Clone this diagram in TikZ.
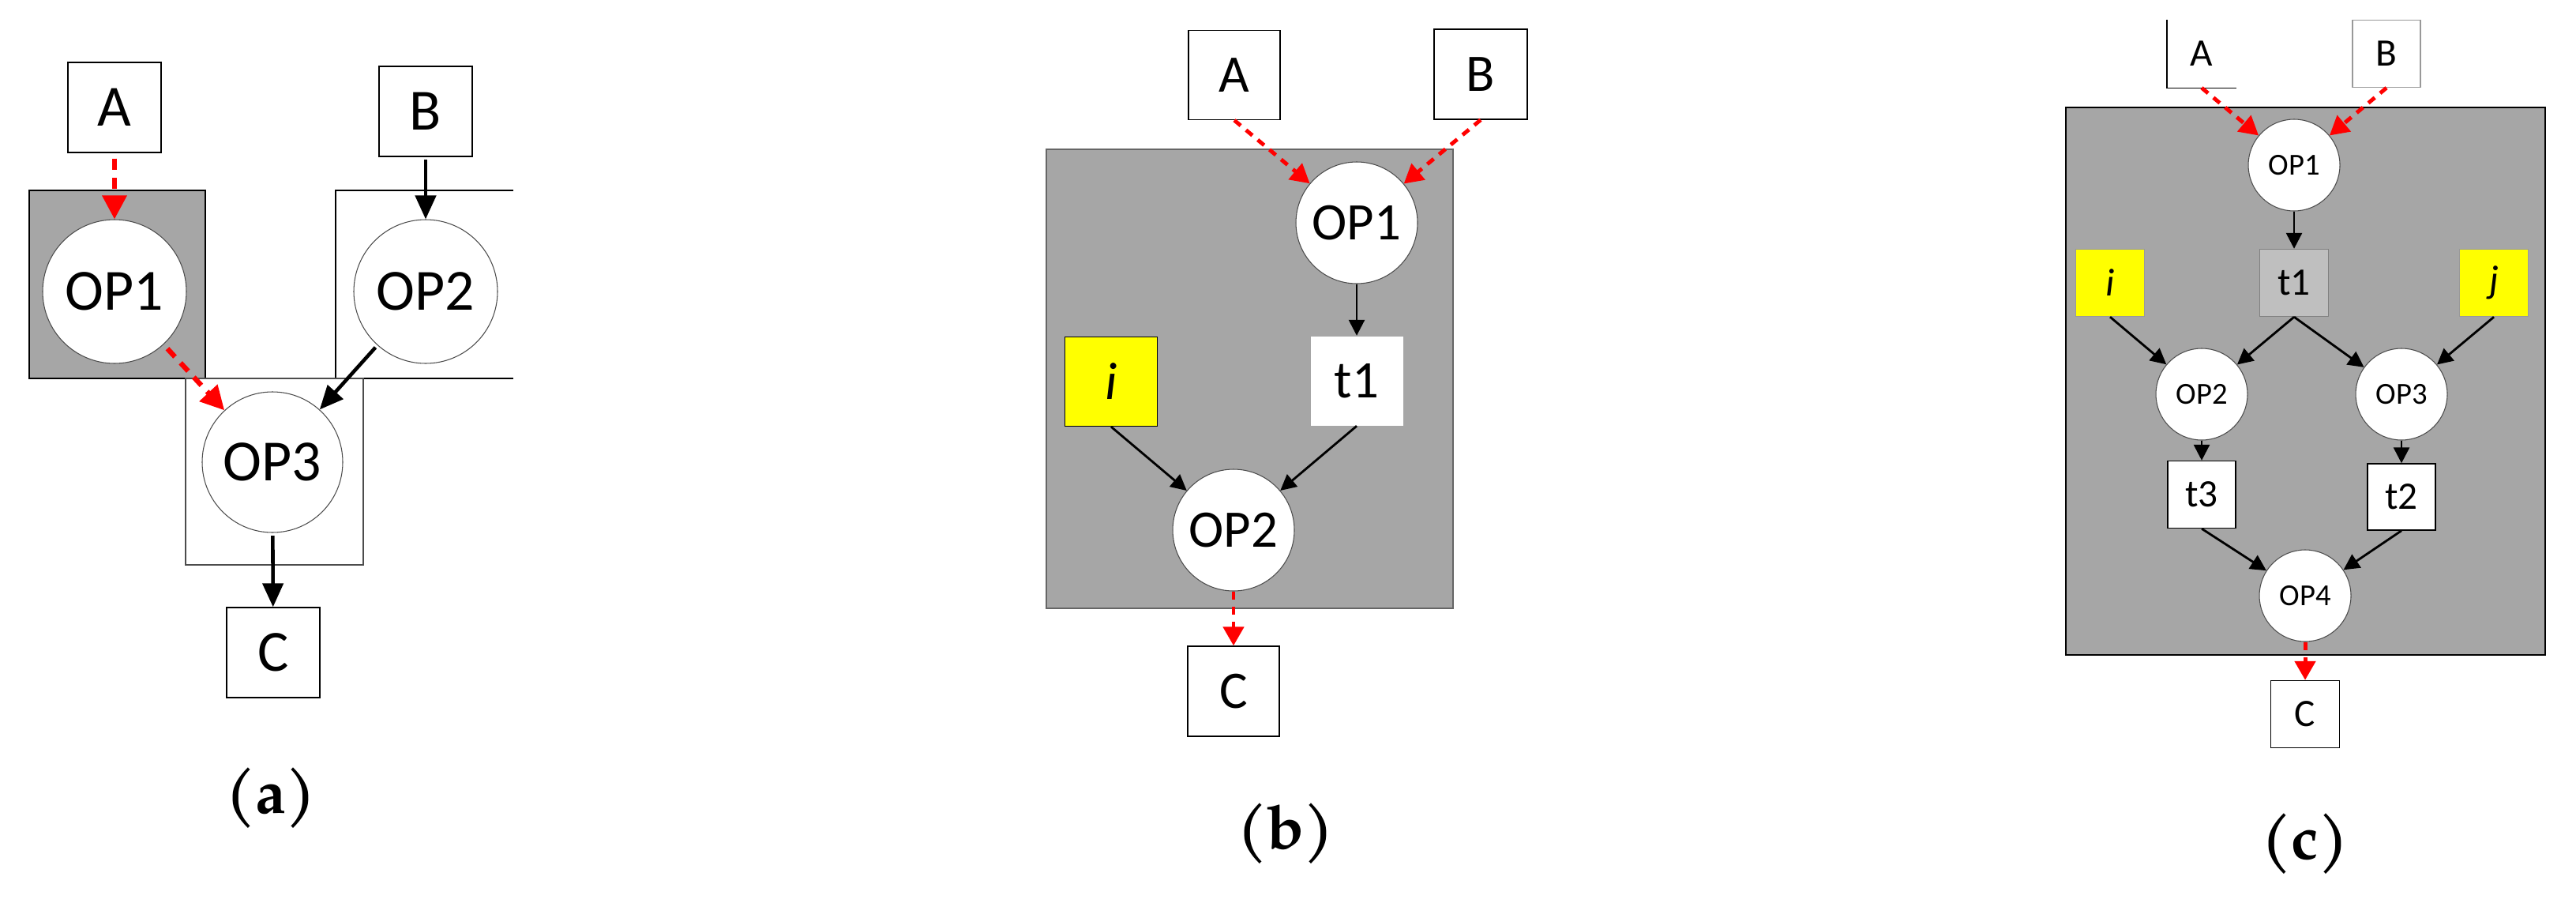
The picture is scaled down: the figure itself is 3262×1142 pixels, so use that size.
\documentclass[tikz,border=0pt]{standalone}
\usepackage{fontspec}
\setmainfont{Carlito}
\newfontfamily\capfont{TeX Gyre Pagella}
\usetikzlibrary{arrows.meta}
\definecolor{bg}{HTML}{A6A6A6}
\definecolor{tg}{HTML}{BFBFBF}
\definecolor{yel}{HTML}{FFFF00}
\tikzset{
  x=0.1mm,y=-0.1mm,
  box/.style={draw=black,line width=0.4pt,fill=white,inner sep=0pt},
  op/.style={circle,draw=black!70,line width=0.3pt,fill=white,inner sep=0pt},
  blk/.style={-{Triangle[length=3mm,width=2.6mm]},line width=1.3pt,black,shorten <=1pt},
  redarr/.style={-{Triangle[length=3mm,width=3mm]},line width=1.8pt,draw=red,dash pattern=on 4pt off 3pt,shorten <=2pt},
  blks/.style={-{Triangle[length=2mm,width=2mm]},line width=0.8pt,black},
  redsm/.style={-{Triangle[length=2.4mm,width=2.6mm]},line width=1.4pt,draw=red,dash pattern=on 3pt off 2.5pt},
  captxt/.style={font=\capfont\fontsize{22}{24}\selectfont\bfseries}
}
\begin{document}
\begin{tikzpicture}
\useasboundingbox (0,0) rectangle (3262,1142);
% ---------- (a)
\fill[bg] (37,241) rectangle (260,479);
\draw[line width=0.5pt] (37,241) rectangle (260,479);
\draw[line width=0.5pt] (650,241) -- (425,241) -- (425,479) -- (650,479);
\draw[line width=0.5pt,black!70] (235,479) rectangle (460,715);
\begin{scope}[font=\fontsize{21}{24}\selectfont]
\node[box,minimum width=11.8mm,minimum height=11.4mm] (aA) at (145,136) {A};
\node[box,minimum width=11.8mm,minimum height=11.4mm] (aB) at (539,141) {B};
\node[box,minimum width=11.8mm,minimum height=11.4mm] (aC) at (346,826) {C};
\node[op,minimum size=18.2mm] (aO1) at (145,369) {OP1};
\node[op,minimum size=18.2mm] (aO2) at (539,369) {OP2};
\node[op,minimum size=17.8mm] (aO3) at (345,585) {OP3};
\end{scope}
\draw[redarr] (aA) -- (aO1);
\draw[redarr] (aO1) -- (aO3);
\draw[blk] (aB) -- (aO2);
\draw[blk] (aO2) -- (aO3);
\draw[blk] (aO3) -- (aC);
\node[captxt] (la) at (343,1010) {(a)};
% ---------- (b)
\fill[bg] (1325,189) rectangle (1840,770);
\draw[line width=0.3pt,black!60] (1325,189) rectangle (1840,770);
\begin{scope}[font=\fontsize{19}{22}\selectfont]
\node[box,minimum width=11.6mm,minimum height=11.3mm] (bA) at (1563,95) {A};
\node[box,minimum width=11.8mm,minimum height=11.4mm] (bB) at (1875,94) {B};
\node[box,minimum width=11.6mm,minimum height=11.4mm] (bC) at (1562,875) {C};
\node[op,minimum size=15.4mm] (bO1) at (1718,282) {OP1};
\node[op,minimum size=15.4mm] (bO2) at (1562,671) {OP2};
\node[box,draw=none,minimum width=11.7mm,minimum height=11.3mm] (bt1) at (1718,482) {t1};
\node[box,fill=yel,minimum width=11.7mm,minimum height=11.3mm] (bi) at (1407,483) {\itshape i};
\end{scope}
\draw[redsm] (bA.south) -- (bO1);
\draw[redsm] (bB.south) -- (bO1);
\draw[blks] (bO1) -- (bt1);
\draw[blks] (bt1.south) -- (bO2);
\draw[blks] (bi.south) -- (bO2);
\draw[redsm] (bO2) -- (bC);
\node[captxt] (lb) at (1628,1055) {(b)};
% ---------- (c)
\fill[bg] (2616,136) rectangle (3223,829);
\draw[line width=0.5pt] (2616,136) rectangle (3223,829);
\begin{scope}[font=\fontsize{14}{16}\selectfont]
\node[inner sep=0pt,minimum width=8.7mm,minimum height=8.5mm] (cA) at (2788,68) {A};
\draw[line width=0.4pt] (cA.north west) -- (cA.south west) -- (cA.south east);
\node[box,draw=black!40,minimum width=8.6mm,minimum height=8.5mm] (cB) at (3022,68) {B};
\node[box,minimum width=8.7mm,minimum height=8.5mm] (cC) at (2919,904) {C};
\node[op,minimum width=11.6mm,minimum height=11.2mm,font=\fontsize{11}{13}\selectfont] (cO1) at (2905,209) {OP1};
\node[op,minimum width=11.6mm,minimum height=11.2mm,font=\fontsize{11}{13}\selectfont] (cO2) at (2788,499) {OP2};
\node[op,minimum width=11.6mm,minimum height=11.2mm,font=\fontsize{11}{13}\selectfont] (cO3) at (3041,499) {OP3};
\node[op,minimum width=11.6mm,minimum height=11.2mm,font=\fontsize{11}{13}\selectfont] (cO4) at (2919,754) {OP4};
\node[box,fill=tg,draw=black!50,minimum width=8.7mm,minimum height=8.5mm] (ct1) at (2905,358) {t1};
\node[box,fill=yel,draw=black!40,minimum width=8.7mm,minimum height=8.5mm] (ci) at (2672,358) {\itshape i};
\node[box,fill=yel,draw=black!40,minimum width=8.7mm,minimum height=8.5mm] (cj) at (3158,358) {\itshape j};
\node[box,minimum width=8.6mm,minimum height=8.5mm] (ct3) at (2788,626) {t3};
\node[box,minimum width=8.6mm,minimum height=8.4mm] (ct2) at (3041,629) {t2};
\end{scope}
\draw[redsm] (cA.south) -- (cO1);
\draw[redsm] (cB.south) -- (cO1);
\draw[blks] (cO1) -- (ct1);
\draw[blks] (ct1.south) -- (cO2);
\draw[blks] (ct1.south) -- (cO3);
\draw[blks] (ci.south) -- (cO2);
\draw[blks] (cj.south) -- (cO3);
\draw[blks] (cO2) -- (ct3);
\draw[blks] (cO3) -- (ct2);
\draw[blks] (ct3.south) -- (cO4);
\draw[blks] (ct2.south) -- (cO4);
\draw[redsm] (cO4) -- (cC);
\node[captxt] (lc) at (2919,1068) {(c)};
\end{tikzpicture}
\end{document}
